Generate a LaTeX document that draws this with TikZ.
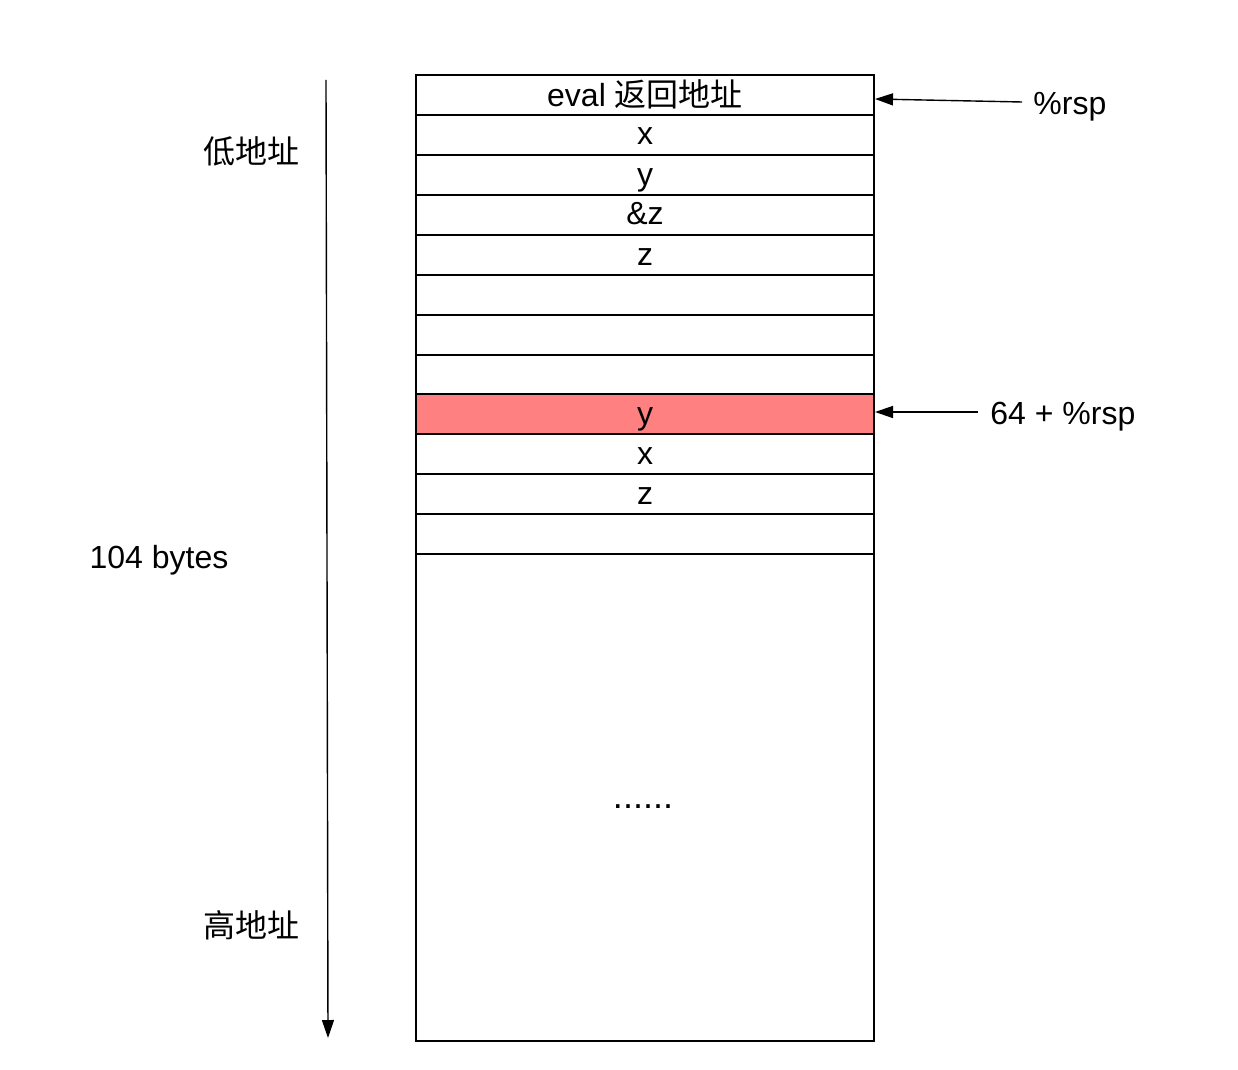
\documentclass[tikz,border=0pt]{standalone}
\usepackage{fontspec}
\setmainfont{Liberation Sans}
\newfontfamily\cjk{Noto Sans CJK SC}
\usetikzlibrary{arrows.meta}
\definecolor{hl}{HTML}{FF8080}
\begin{document}
\begin{tikzpicture}[x=0.5pt,y=-0.5pt,
  cell/.style={draw,line width=1pt,minimum width=229pt,minimum height=20pt,inner sep=0pt,anchor=north west,text height=12pt,text depth=2pt,font=\fontsize{16}{18}\selectfont},
  lbl/.style={font=\fontsize{16}{18}\selectfont,inner sep=0pt},
  arr/.style={line width=0.7pt,-{Triangle[length=9pt,width=6pt]}}]
\useasboundingbox (0,0) rectangle (1238,1070);
\node[cell,text height=14pt] (r0) at (415,74) {eval {\cjk 返回地址}};
\node[cell] (r1) at (415,114) {x};
\node[cell] (r2) at (415,154) {y};
\node[cell] (r3) at (415,194) {\&z};
\node[cell] (r4) at (415,234) {z};
\node[cell] (r5) at (415,274) {};
\node[cell] (r6) at (415,314) {};
\node[cell] (r7) at (415,353.5) {};
\node[cell,fill=hl] (r8) at (415,393) {y};
\node[cell] (r9) at (415,433) {x};
\node[cell] (r10) at (415,473) {z};
\node[cell] (r11) at (415,513) {};
\node[cell,minimum height=243.5pt] (r12) at (415,553) {};
\node[lbl,font=\fontsize{18}{20}\selectfont,anchor=base] (dots) at (643,808) {......};
\node[lbl] (low) at (251,151) {\cjk 低地址};
\node[lbl,anchor=base] (size) at (159,568) {104 bytes};
\node[lbl] (high) at (251,925) {\cjk 高地址};
\node[lbl,anchor=base west] (rsp) at (1033,115) {\%rsp};
\node[lbl,anchor=base west] (rsp64) at (990,424) {64 + \%rsp};
\coordinate (vtop) at (326,80);
\coordinate (vbot) at (328,1038);
\coordinate (a1) at (1022,102);
\coordinate (a2) at (978,412);
\draw[arr] (vtop) -- (vbot);
\draw[arr] (a1) -- (r0.east |- 0,99);
\draw[arr] (a2) -- (r8.east |- a2);
\end{tikzpicture}
\end{document}
